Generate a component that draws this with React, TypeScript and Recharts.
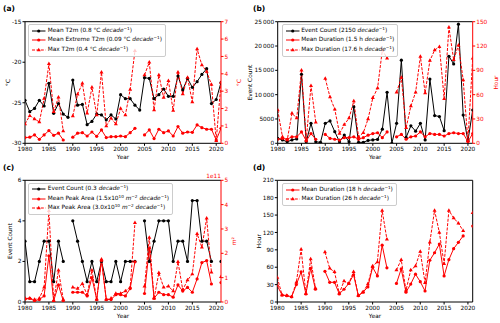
import React from 'react';
import { LineChart, Line, XAxis, YAxis, Legend, Label, ReferenceLine } from 'recharts';

const years = [
  1980, 1981, 1982, 1983, 1984, 1985, 1986, 1987, 1988, 1989,
  1990, 1991, 1992, 1993, 1994, 1995, 1996, 1997, 1998, 1999,
  2000, 2001, 2002, 2003, 2004, 2005, 2006, 2007, 2008, 2009,
  2010, 2011, 2012, 2013, 2014, 2015, 2016, 2017, 2018, 2019,
  2020, 2021,
];
const xTicks = [1980, 1985, 1990, 1995, 2000, 2005, 2010, 2015, 2020];

// (a) temperature
const meanT2m = [
  -24.7, -26.1, -25.7, -24.7, -25.4, -22.6, -26.3, -25.1, -26.4, -26.8,
  -22.2, -25.3, -25.2, -27.7, -27.3, -26.4, -26.5, -27.1, -26.5, -27.0,
  -24.0, -24.5, -24.5, -25.3, -25.9, -21.9, -22.0, -24.5, -24.0, -23.3,
  -24.2, -24.2, -21.7, -23.4, -22.0, -23.1, -22.4, -21.5, -20.8, -25.1,
  -24.6, -22.5,
];
const meanExtremeT2m = [
  0.33, 0.35, 0.48, 0.23, 0.48, 0.73, 0.46, 0.58, 0.19, null,
  0.35, 0.58, 0.61, 0.42, 0.65, 0.4, 0.77, 0.33, 0.38, 0.38,
  0.42, 0.38, 0.61, 0.86, null, 0.48, 0.77, 0.27, 0.81, 0.61,
  0.71, 0.42, 0.96, 0.58, 0.65, 0.63, 1.06, 0.9, 0.81, 0.81,
  0.19, 0.86,
];
const maxT2m = [
  1.11, 1.59, 1.4, 1.23, 2.57, 4.57, 1.82, 2.65, 0.71, null,
  1.57, 2.82, 3.45, 1.73, 3.22, 1.63, 4.09, 1.0, 1.44, 1.11,
  2.0, 1.63, 3.1, 5.33, null, 3.93, 4.66, 1.92, 3.93, 2.63,
  3.6, 1.88, 4.09, 2.84, 3.78, 2.38, 5.43, 4.51, 4.13, 3.38,
  0.15, 3.5,
];

// (b) event count and duration
const eventCountB = [
  1000, 700, 300, 700, 900, 14200, 300, 4100, 300, 200,
  4100, 4600, 2400, 300, 1700, 300, 7500, 200, 200, 600,
  700, 800, 2900, 10500, 0, 4100, 17100, 1200, 3600, 2500,
  4100, 700, 13200, 5700, 5500, 2600, 17900, 16300, 24500, 5800,
  500, 6850,
];
const meanDurationB = [
  5, 6, 5, 8, 8, 14, 3, 12, 5, null,
  11, 6, 5, 4, 7, 7, 8, 5, 7, 10,
  12, 13, 7, 14, null, 8, 11, 5, 8, 9,
  14, 8, 12, 11, 11, 9, 12, 13, 12, 12,
  2, 12,
];
const maxDurationB = [
  41, 8, 4, 37, 31, 90, 4, 71, 26, null,
  80, 57, 42, 12, 23, 31, 52, 8, 13, 30,
  56, 68, 115, 105, null, 63, 81, 19, 46, 63,
  107, 62, 102, 115, 119, 55, 143, 103, 121, 78,
  3, 105,
];

// (c) event count and peak area (area in units of 1e11 m2)
const eventCountC = [
  3, 1, 1, 2, 3, 3, 1, 3, 2, null,
  4, 3, 2, 1, 2, 1, 2, 1, 1, 2,
  1, 2, 2, 2, null, 4, 2, 3, 4, 4,
  4, 2, 3, 3, 2, 5, 5, 3, 3, 2,
  null, 2,
];
const meanPeakArea = [
  0.12, 0.15, 0.05, 0.1, 0.25, 1.9, 0.05, 0.7, 0.05, null,
  0.4, 0.4, 0.4, 0.25, 1.0, 0.1, 1.7, 0.1, 0.1, 0.3,
  0.3, 0.25, 0.55, 1.65, null, 0.35, 2.2, 0.15, 0.4, 0.3,
  0.3, 0.2, 0.7, 0.45, 0.6, 0.4, 0.95, 1.62, 1.7, 0.74,
  null, 0.8,
];
const maxPeakArea = [
  0.15, 0.15, 0.1, 0.15, 0.6, 3.75, 0.05, 1.3, 0.1, null,
  0.6, 0.55, 0.75, 0.3, 1.3, 0.1, 1.75, 0.1, 0.15, 0.35,
  0.35, 0.45, 0.6, 3.25, null, 0.65, 2.65, 0.15, 1.2, 0.6,
  0.65, 0.45, 1.65, 0.5, 0.9, 1.15, 2.8, 2.25, 3.44, 1.22,
  null, 1.04,
];

// (d) duration
const meanDurationD = [
  28, 12, 11, 9, 30, 52, 14, 58, 22, null,
  53, 34, 34, 14, 22, 32, 47, 11, 17, 26,
  60, 45, 98, 59, null, 32, 57, 17, 31, 48,
  35, 19, 72, 85, 100, 45, 73, 92, 103, 114,
  null, 131,
];
const maxDurationD = [
  42, 12, 11, 9, 34, 91, 14, 74, 24, null,
  86, 58, 52, 15, 36, 32, 52, 11, 17, 31,
  62, 69, 158, 108, null, 55, 73, 20, 55, 62,
  87, 33, 103, 158, 120, 66, 158, 145, 136, 123,
  null, 154,
];

const RED = '#ff0000';
const FS = 5.8;

const dataA = years.map((year, i) => ({ year, mean: meanT2m[i], ext: meanExtremeT2m[i], max: maxT2m[i] }));
const dataB = years.map((year, i) => ({ year, count: eventCountB[i], mean: meanDurationB[i], max: maxDurationB[i] }));
const dataC = years.map((year, i) => ({ year, count: eventCountC[i], mean: meanPeakArea[i], max: maxPeakArea[i] }));
const dataD = years.map((year, i) => ({ year, mean: meanDurationD[i], max: maxDurationD[i] }));

const circleDot = (color: string) => (p: any) =>
  p.cx == null || p.cy == null || p.value == null ? <g key={p.index} /> :
    <circle key={p.index} cx={p.cx} cy={p.cy} r={1.6} fill={color} stroke="none" />;

const triDot = (color: string) => (p: any) =>
  p.cx == null || p.cy == null || p.value == null ? <g key={p.index} /> :
    <path key={p.index} d={`M${p.cx},${p.cy - 2.3}L${p.cx + 2},${p.cy + 1.2}L${p.cx - 2},${p.cy + 1.2}Z`} fill={color} />;

const tickStyle = { fontSize: FS, fill: '#000' };
const redTick = { fontSize: FS, fill: RED };

const vTitle = (text: React.ReactNode, x: number, color = '#000') => (props: any) => {
  const vb = props.viewBox;
  const cy = vb.y + vb.height / 2;
  return (
    <text x={x} y={cy} transform={`rotate(-90 ${x} ${cy})`} textAnchor="middle" dominantBaseline="central" fontSize={FS} fill={color}>
      {text}
    </text>
  );
};

const yearTitle = (props: any) => {
  const vb = props.viewBox;
  return (
    <text x={vb.x + vb.width / 2} y={vb.y + 13.5} textAnchor="middle" dominantBaseline="central" fontSize={FS} fill="#000">
      Year
    </text>
  );
};

const bottomAxis = (h: number) => (
  <XAxis dataKey="year" type="number" domain={[1980, 2021]} ticks={xTicks} allowDataOverflow interval={0}
    height={h} stroke="#000" tick={tickStyle} tickSize={2.5} tickMargin={1}>
    <Label content={yearTitle} />
  </XAxis>
);

const Sup = ({ children }: { children: React.ReactNode }) => (
  <span style={{ fontSize: 4.2, position: 'relative', top: -2.3 }}>{children}</span>
);
const Dec = () => <><i>decade</i><Sup>−1</Sup></>;

type Entry = { label: React.ReactNode; color: string; dashed?: boolean; tri?: boolean };

const LegendBox = ({ items, row }: { items: Entry[]; row: number }) => (
  <div style={{ background: 'rgba(255,255,255,0.8)', border: '0.7px solid #cccccc', borderRadius: 2, padding: '1px 3px 1px 3px', fontSize: FS, color: '#000', whiteSpace: 'nowrap', lineHeight: 1 }}>
    {items.map((it, i) => (
      <div key={i} style={{ display: 'flex', alignItems: 'center', height: row }}>
        <svg width={13.5} height={6} style={{ marginRight: 2, overflow: 'visible', flex: 'none' }}>
          <line x1={0} y1={3} x2={13.5} y2={3} stroke={it.color} strokeWidth={1} strokeDasharray={it.dashed ? '3 1.4' : undefined} />
          {it.tri
            ? <path d="M6.75,0.7L8.75,4.2L4.75,4.2Z" fill={it.color} />
            : <circle cx={6.75} cy={3} r={1.6} fill={it.color} />}
        </svg>
        <span>{it.label}</span>
      </div>
    ))}
  </div>
);

const legendA: Entry[] = [
  { label: <>Mean T2m (0.8 °C <Dec />)</>, color: '#000' },
  { label: <>Mean Extreme T2m (0.09 °C <Dec />)</>, color: RED },
  { label: <>Max T2m (0.4 °C <Dec />)</>, color: RED, dashed: true, tri: true },
];
const legendB: Entry[] = [
  { label: <>Event Count (2150 <Dec />)</>, color: '#000' },
  { label: <>Mean Duration (1.5 h <Dec />)</>, color: RED },
  { label: <>Max Duration (17.6 h <Dec />)</>, color: RED, dashed: true, tri: true },
];
const legendC: Entry[] = [
  { label: <>Event Count (0.3 <Dec />)</>, color: '#000' },
  { label: <>Mean Peak Area (1.5x10<Sup>10</Sup> <i>m</i><Sup>−2</Sup> <Dec />)</>, color: RED },
  { label: <>Max Peak Area (3.0x10<Sup>10</Sup> <i>m</i><Sup>−2</Sup> <Dec />)</>, color: RED, dashed: true, tri: true },
];
const legendD: Entry[] = [
  { label: <>Mean Duration (18 h <Dec />)</>, color: RED },
  { label: <>Max Duration (26 h <Dec />)</>, color: RED, dashed: true, tri: true },
];

const panelLabel = (text: string, left: number, top: number) => (
  <div style={{ position: 'absolute', left, top, fontSize: 7.5, fontWeight: 'bold', lineHeight: 1 }}>{text}</div>
);

const thousands = (v: number) => (v >= 10000 ? `${Math.floor(v / 1000)}\u2009000` : String(v));

const legendProps = {
  layout: 'vertical' as const,
  align: 'center' as const,
  verticalAlign: 'middle' as const,
};

const PanelA = () => (
  <LineChart width={250} height={160} data={dataA} margin={{ top: 21.7, right: 0, bottom: 0, left: 0 }}>
    {bottomAxis(16.7)}
    <YAxis yAxisId="left" domain={[-30, -15]} ticks={[-30, -25, -20, -15]} allowDataOverflow width={25}
      stroke="#000" tick={tickStyle} tickSize={2.5} tickMargin={1}>
      <Label content={vTitle('°C', 8)} />
    </YAxis>
    <YAxis yAxisId="right" orientation="right" domain={[0, 7]} ticks={[0, 1, 2, 3, 4, 5, 6, 7]} allowDataOverflow width={29}
      stroke={RED} tick={redTick} tickSize={2.5} tickMargin={1}>
      <Label content={vTitle('°C', 239, RED)} />
    </YAxis>
    <ReferenceLine yAxisId="left" y={-15} stroke="#000" />
    <Line yAxisId="left" dataKey="mean" stroke="#000" strokeWidth={1} dot={circleDot('#000')} isAnimationActive={false} connectNulls={false} />
    <Line yAxisId="right" dataKey="ext" stroke={RED} strokeWidth={1} dot={circleDot(RED)} isAnimationActive={false} connectNulls={false} />
    <Line yAxisId="right" dataKey="max" stroke={RED} strokeWidth={1} strokeDasharray="3 1.4" dot={triDot(RED)} isAnimationActive={false} connectNulls={false} />
    <Legend {...legendProps} wrapperStyle={{ left: 28.3, top: 24, width: 'auto' }} content={() => <LegendBox items={legendA} row={9.6} />} />
  </LineChart>
);

const PanelB = () => (
  <LineChart width={256} height={160} data={dataB} margin={{ top: 21.7, right: 0, bottom: 0, left: 0 }}>
    {bottomAxis(16.7)}
    <YAxis yAxisId="left" domain={[0, 25000]} ticks={[0, 5000, 10000, 15000, 20000, 25000]} allowDataOverflow width={33.7}
      stroke="#000" tick={tickStyle} tickSize={2.5} tickMargin={1} tickFormatter={thousands}>
      <Label content={vTitle('Event Count', 5.5)} />
    </YAxis>
    <YAxis yAxisId="right" orientation="right" domain={[0, 150]} ticks={[0, 30, 60, 90, 120, 150]} allowDataOverflow width={27.3}
      stroke={RED} tick={redTick} tickSize={2.5} tickMargin={1}>
      <Label content={vTitle('Hour', 252, RED)} />
    </YAxis>
    <ReferenceLine yAxisId="left" y={25000} stroke="#000" />
    <Line yAxisId="left" dataKey="count" stroke="#000" strokeWidth={1} dot={circleDot('#000')} isAnimationActive={false} connectNulls={false} />
    <Line yAxisId="right" dataKey="mean" stroke={RED} strokeWidth={1} dot={circleDot(RED)} isAnimationActive={false} connectNulls={false} />
    <Line yAxisId="right" dataKey="max" stroke={RED} strokeWidth={1} strokeDasharray="3 1.4" dot={triDot(RED)} isAnimationActive={false} connectNulls={false} />
    <Legend {...legendProps} wrapperStyle={{ left: 37.7, top: 24, width: 'auto' }} content={() => <LegendBox items={legendB} row={9.6} />} />
  </LineChart>
);

const PanelC = () => (
  <LineChart width={250} height={163} data={dataC} margin={{ top: 20.3, right: 0, bottom: 0, left: 0 }}>
    {bottomAxis(21)}
    <YAxis yAxisId="left" domain={[0, 6]} ticks={[0, 2, 4, 6]} allowDataOverflow width={25}
      stroke="#000" tick={tickStyle} tickSize={2.5} tickMargin={1}>
      <Label content={vTitle('Event Count', 10)} />
    </YAxis>
    <YAxis yAxisId="right" orientation="right" domain={[0, 5]} ticks={[0, 1, 2, 3, 4, 5]} allowDataOverflow width={29}
      stroke={RED} tick={redTick} tickSize={2.5} tickMargin={1}>
      <Label content={vTitle(<><tspan fontStyle="italic">m</tspan>²</>, 234.5, RED)} />
      <Label content={(p: any) => (
        <text x={p.viewBox.x} y={p.viewBox.y - 2.5} textAnchor="end" fontSize={FS} fill={RED}>1e11</text>
      )} />
    </YAxis>
    <ReferenceLine yAxisId="left" y={6} stroke="#000" />
    <Line yAxisId="left" dataKey="count" stroke="#000" strokeWidth={1} dot={circleDot('#000')} isAnimationActive={false} connectNulls={false} />
    <Line yAxisId="right" dataKey="mean" stroke={RED} strokeWidth={1} dot={circleDot(RED)} isAnimationActive={false} connectNulls={false} />
    <Line yAxisId="right" dataKey="max" stroke={RED} strokeWidth={1} strokeDasharray="3 1.4" dot={triDot(RED)} isAnimationActive={false} connectNulls={false} />
    <Legend {...legendProps} wrapperStyle={{ left: 28.3, top: 22.7, width: 'auto' }} content={() => <LegendBox items={legendC} row={9.4} />} />
  </LineChart>
);

const PanelD = () => (
  <LineChart width={256} height={163} data={dataD} margin={{ top: 20.3, right: 27.3, bottom: 0, left: 0 }}>
    {bottomAxis(21)}
    <YAxis yAxisId="left" domain={[0, 210]} ticks={[0, 30, 60, 90, 120, 150, 180, 210]} allowDataOverflow width={33.3}
      stroke="#000" tick={tickStyle} tickSize={2.5} tickMargin={1}>
      <Label content={vTitle('Hour', 15)} />
    </YAxis>
    <ReferenceLine yAxisId="left" y={210} stroke="#000" />
    <ReferenceLine yAxisId="left" x={2021} stroke="#000" />
    <Line yAxisId="left" dataKey="mean" stroke={RED} strokeWidth={1} dot={circleDot(RED)} isAnimationActive={false} connectNulls={false} />
    <Line yAxisId="left" dataKey="max" stroke={RED} strokeWidth={1} strokeDasharray="3 1.4" dot={triDot(RED)} isAnimationActive={false} connectNulls={false} />
    <Legend {...legendProps} wrapperStyle={{ left: 38, top: 23, width: 'auto' }} content={() => <LegendBox items={legendD} row={9.4} />} />
  </LineChart>
);

export default function App() {
  return (
    <div style={{ position: 'absolute', left: 0, top: 0, width: 500, height: 323, background: '#fff', fontFamily: '"DejaVu Sans", sans-serif', overflow: 'hidden' }}>
      <div style={{ position: 'absolute', left: 0, top: 0 }}><PanelA /></div>
      <div style={{ position: 'absolute', left: 244, top: 0 }}><PanelB /></div>
      <div style={{ position: 'absolute', left: 0, top: 160 }}><PanelC /></div>
      <div style={{ position: 'absolute', left: 244, top: 160 }}><PanelD /></div>
      {panelLabel('(a)', 3, 5)}
      {panelLabel('(b)', 253, 5)}
      {panelLabel('(c)', 3, 164)}
      {panelLabel('(d)', 253, 164)}
    </div>
  );
}
